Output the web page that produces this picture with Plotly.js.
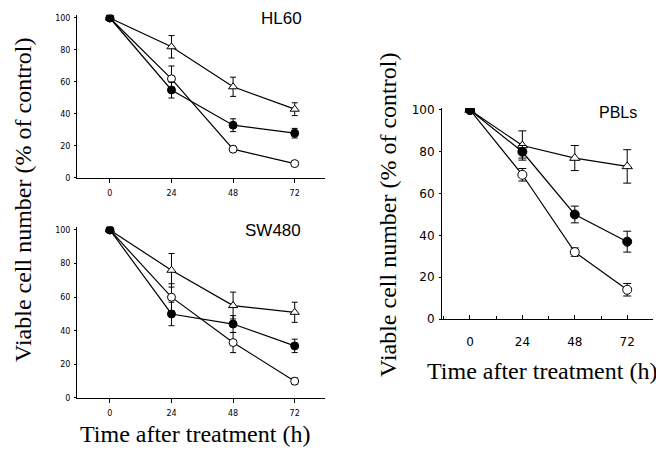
<!DOCTYPE html>
<html>
<head>
<meta charset="utf-8">
<script src="https://cdn.plot.ly/plotly-3.0.1.min.js"></script>
<style>
html,body{margin:0;padding:0;background:#fff;}
#chart{width:656px;height:455px;}
</style>
</head>
<body>
<div id="chart"></div>
<script>
// Data
const hours = [0, 24, 48, 72];
const xTickVals = [0, 24, 48, 72];
const yTickVals = [0, 20, 40, 60, 80, 100];

const panelNames = ["HL60", "SW480", "PBLs"];

const hl60Triangle = [100, 82, 57, 43];
const hl60TriangleErr = [0, 7, 6, 4];
const hl60Filled = [100, 55, 33, 28];
const hl60FilledErr = [0, 5, 4, 3];
const hl60Open = [100, 62, 18, 9];
const hl60OpenErr = [0, 8, 2, 1];

const sw480Triangle = [100, 76, 55, 51];
const sw480TriangleErr = [0, 10, 8, 6];
const sw480Filled = [100, 50, 44, 31];
const sw480FilledErr = [0, 7, 5, 4];
const sw480Open = [100, 60, 33, 10];
const sw480OpenErr = [0, 8, 6, 2];

const pblTriangle = [100, 83, 77, 73];
const pblTriangleErr = [0, 7, 6, 8];
const pblFilled = [100, 80, 50, 37];
const pblFilledErr = [0, 3, 4, 5];
const pblOpen = [100, 69, 32, 14];
const pblOpenErr = [0, 3, 2, 3];

const yTitle = "Viable cell number (% of control)";
const xTitle = "Time after treatment (h)";

function series(y, err, symbol, fill, xa, ya, size, errWidth) {
  return {
    type: "scatter", mode: "lines+markers",
    x: hours, y: y, xaxis: xa, yaxis: ya,
    line: {color: "black", width: 1.2},
    marker: {symbol: symbol, size: size, color: fill, line: {color: "black", width: 1}},
    error_y: {type: "data", array: err, visible: true, color: "black", thickness: 1, width: errWidth},
    showlegend: false, hoverinfo: "skip"
  };
}

const data = [
  series(hl60Triangle, hl60TriangleErr, "triangle-up", "white", "x", "y", 8, 3),
  series(hl60Open, hl60OpenErr, "circle", "white", "x", "y", 8, 3),
  series(hl60Filled, hl60FilledErr, "circle", "black", "x", "y", 8, 3),
  series(sw480Triangle, sw480TriangleErr, "triangle-up", "white", "x2", "y2", 8, 3),
  series(sw480Open, sw480OpenErr, "circle", "white", "x2", "y2", 8, 3),
  series(sw480Filled, sw480FilledErr, "circle", "black", "x2", "y2", 8, 3),
  series(pblTriangle, pblTriangleErr, "triangle-up", "white", "x3", "y3", 9, 4),
  series(pblOpen, pblOpenErr, "circle", "white", "x3", "y3", 9, 4),
  series(pblFilled, pblFilledErr, "circle", "black", "x3", "y3", 9, 4)
];

const smallTick = {family: "DejaVu Sans, Arial, sans-serif", size: 8, color: "black"};
const bigTick = {family: "DejaVu Sans, Arial, sans-serif", size: 12, color: "black"};

function xAx(domain, anchor, font, extra) {
  return Object.assign({
    domain: domain, anchor: anchor, range: [-12.8, 83.8],
    tickvals: xTickVals, ticktext: xTickVals.map(String),
    showline: true, linecolor: "black", linewidth: 1,
    showgrid: false, zeroline: false,
    ticks: "outside", ticklen: 4, tickcolor: "black", tickwidth: 1,
    tickfont: font, fixedrange: true
  }, extra || {});
}
function xOverlay(overlay, anchor) {
  // upper half of the crossing tick marks on the left panels
  return {
    overlaying: overlay, anchor: anchor, range: [-12.8, 83.8],
    tickvals: xTickVals, showticklabels: false,
    showline: false, showgrid: false, zeroline: false,
    ticks: "inside", ticklen: 4, tickcolor: "black", tickwidth: 1, fixedrange: true
  };
}
function yAx(domain, anchor, font, range, extra) {
  return Object.assign({
    domain: domain, anchor: anchor, range: range,
    tickvals: yTickVals, ticktext: yTickVals.map(String),
    showline: true, linecolor: "black", linewidth: 1,
    showgrid: false, zeroline: false,
    ticks: "outside", ticklen: 2, tickcolor: "black", tickwidth: 1,
    tickfont: font, fixedrange: true
  }, extra || {});
}

const serif = {family: "Liberation Serif, Times New Roman, serif", size: 24, color: "black"};
const sans = {family: "Liberation Sans, Arial, sans-serif", size: 17, color: "black"};

const layout = {
  width: 656, height: 455,
  margin: {l: 0, r: 0, t: 0, b: 0},
  paper_bgcolor: "white", plot_bgcolor: "white",
  showlegend: false,
  xaxis: xAx([0.1174, 0.4954], "y", smallTick, {ticklabelstandoff: 3}),
  yaxis: yAx([0.6088, 0.9675], "x", smallTick, [0, 102], {ticklabelstandoff: 2}),
  xaxis2: xAx([0.1174, 0.4954], "y2", smallTick, {ticklabelstandoff: 3}),
  yaxis2: yAx([0.1253, 0.502], "x2", smallTick, [0, 102], {ticklabelstandoff: 2}),
  xaxis3: xAx([0.6738, 0.9954], "y3", bigTick, {ticks: "inside", ticklen: 4, ticklabelstandoff: 12,
    minor: {dtick: 12, tick0: 0, ticks: "inside", ticklen: 3, tickcolor: "black"}}),
  yaxis3: yAx([0.2989, 0.7629], "x3", bigTick, [0, 101], {ticklabelstandoff: 2}),
  xaxis4: xOverlay("x", "y"),
  xaxis5: xOverlay("x2", "y2"),
  annotations: [
    {xref: "paper", yref: "paper", x: 0.035, y: 0.5604, text: yTitle, textangle: -90,
     showarrow: false, xanchor: "center", yanchor: "middle", font: serif},
    {xref: "paper", yref: "paper", x: 0.2973, y: 0.0462, text: xTitle,
     showarrow: false, xanchor: "center", yanchor: "middle", font: serif},
    {xref: "paper", yref: "paper", x: 0.5915, y: 0.5275, text: yTitle, textangle: -90,
     showarrow: false, xanchor: "center", yanchor: "middle", font: serif},
    {xref: "paper", yref: "paper", x: 0.826, y: 0.1846, text: xTitle,
     showarrow: false, xanchor: "center", yanchor: "middle", font: serif},
    {xref: "paper", yref: "paper", x: 0.4284, y: 0.9604, text: panelNames[0],
     showarrow: false, xanchor: "center", yanchor: "middle", font: sans},
    {xref: "paper", yref: "paper", x: 0.4154, y: 0.4945, text: panelNames[1],
     showarrow: false, xanchor: "center", yanchor: "middle", font: sans},
    {xref: "paper", yref: "paper", x: 0.9428, y: 0.7538, text: panelNames[2],
     showarrow: false, xanchor: "center", yanchor: "middle",
     font: {family: "Liberation Sans, Arial, sans-serif", size: 16, color: "black"}}
  ]
};

Plotly.newPlot("chart", data, layout, {displayModeBar: false, staticPlot: true});
</script>
</body>
</html>
